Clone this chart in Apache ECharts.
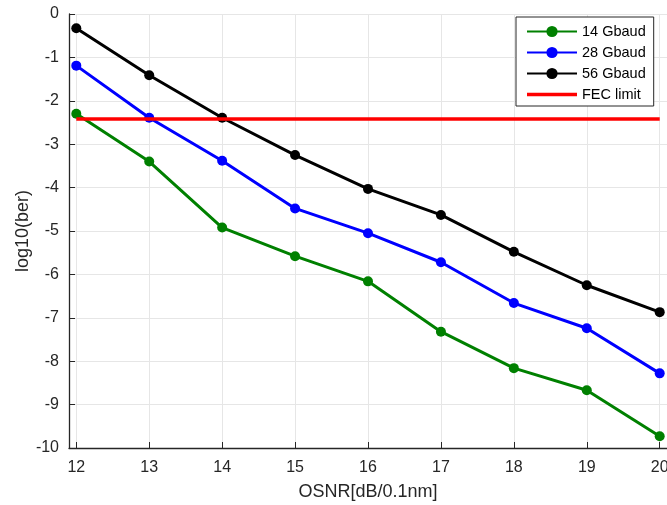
<!DOCTYPE html>
<html>
<head>
<meta charset="utf-8">
<script src="https://cdn.jsdelivr.net/npm/echarts@6/dist/echarts.min.js"></script>
<style>
  html, body { margin: 0; padding: 0; background: #fff; }
  #chart { width: 667px; height: 505px; }
</style>
</head>
<body>
<div id="chart"></div>
<script>
// OSNR sweep (dB / 0.1 nm)
const osnr = [12, 13, 14, 15, 16, 17, 18, 19, 20];
// log10(BER) per symbol rate
const ber14 = [-2.30, -3.40, -4.92, -5.58, -6.16, -7.32, -8.16, -8.67, -9.73];
const ber28 = [-1.19, -2.39, -3.38, -4.48, -5.05, -5.72, -6.66, -7.24, -8.28];
const ber56 = [-0.33, -1.41, -2.39, -3.25, -4.03, -4.63, -5.48, -6.25, -6.87];
// hard-decision FEC threshold
const fecLimit = -2.42;
const fecSpan = [12, 20];
const xTicks = [12, 13, 14, 15, 16, 17, 18, 19, 20];

const font = 'Liberation Sans, Arial, sans-serif';
const zip = (xs, ys) => xs.map((x, i) => [x, ys[i]]);

const lineSeries = (name, color, values) => ({
  name,
  type: 'line',
  data: zip(osnr, values),
  symbol: 'circle',
  symbolSize: 10,
  showSymbol: true,
  lineStyle: { color, width: 3 },
  itemStyle: { color },
  emphasis: { disabled: true },
  z: 3
});

const chart = echarts.init(document.getElementById('chart'), null, { renderer: 'canvas' });
chart.setOption({
  animation: false,
  backgroundColor: '#ffffff',
  grid: { left: 69, right: 0, top: 14, bottom: 57, containLabel: false, outerBoundsMode: 'none' },
  xAxis: {
    type: 'value',
    min: 11.9,
    max: 20.1,
    name: 'OSNR[dB/0.1nm]',
    nameLocation: 'middle',
    nameGap: 35,
    nameMoveOverlap: false,
    nameTextStyle: { fontFamily: font, fontSize: 18, color: '#262626' },
    axisLine: { show: true, onZero: false, lineStyle: { color: '#262626', width: 1.3 } },
    axisTick: { show: true, inside: true, length: 6, customValues: xTicks, lineStyle: { color: '#262626' } },
    axisLabel: { customValues: xTicks, fontFamily: font, fontSize: 16, color: '#262626', margin: 12 },
    splitLine: { show: true, lineStyle: { color: '#e6e6e6', width: 1 } }
  },
  yAxis: {
    type: 'value',
    min: -10,
    max: 0,
    interval: 1,
    name: 'log10(ber)',
    nameLocation: 'middle',
    nameRotate: 90,
    nameGap: 37,
    nameMoveOverlap: false,
    nameTextStyle: { fontFamily: font, fontSize: 18, color: '#262626' },
    axisLine: { show: true, onZero: false, lineStyle: { color: '#262626', width: 1.3 } },
    axisTick: { show: true, inside: true, length: 6, lineStyle: { color: '#262626' } },
    axisLabel: { fontFamily: font, fontSize: 16, color: '#262626', margin: 10, padding: [3, 0, 0, 0] },
    splitLine: { show: true, lineStyle: { color: '#e6e6e6', width: 1 } }
  },
  legend: {
    orient: 'vertical',
    left: 516,
    top: 17,
    width: 143,
    padding: [7, 8, 4, 10],
    itemGap: 6,
    itemWidth: 50,
    itemHeight: 14,
    borderColor: '#262626',
    borderWidth: 1,
    backgroundColor: '#fff',
    textStyle: { fontFamily: font, fontSize: 14.5, color: '#000' },
    data: [
      '14 Gbaud',
      '28 Gbaud',
      '56 Gbaud',
      { name: 'FEC limit', icon: 'path://M0,0L50,0L50,3.5L0,3.5Z' }
    ]
  },
  series: [
    lineSeries('14 Gbaud', '#008000', ber14),
    lineSeries('28 Gbaud', '#0000ff', ber28),
    lineSeries('56 Gbaud', '#000000', ber56),
    {
      name: 'FEC limit',
      type: 'line',
      data: fecSpan.map(x => [x, fecLimit]),
      symbol: 'none',
      showSymbol: false,
      lineStyle: { color: '#ff0000', width: 3.5 },
      itemStyle: { color: '#ff0000' },
      emphasis: { disabled: true },
      z: 4
    }
  ]
});
</script>
</body>
</html>
